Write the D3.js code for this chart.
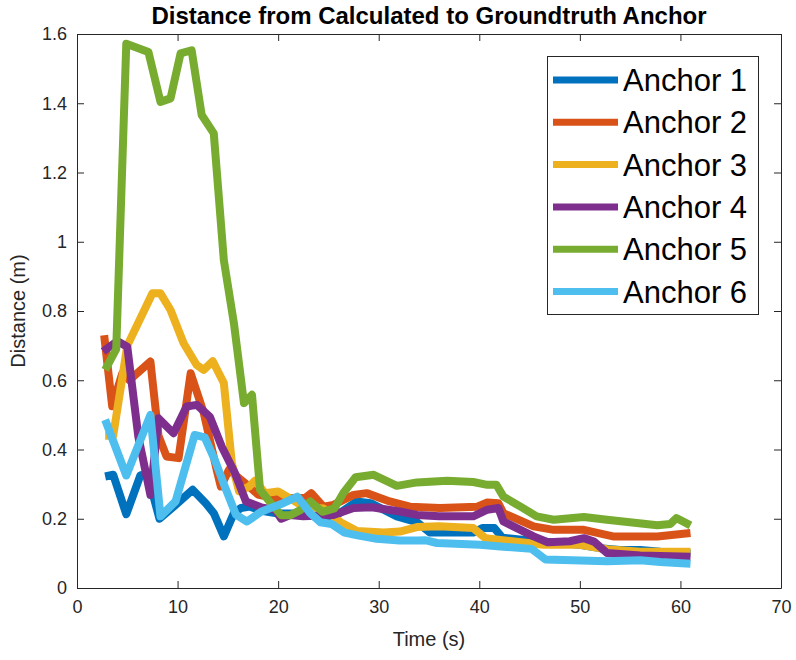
<!DOCTYPE html>
<html>
<head>
<meta charset="utf-8">
<script src="https://cdn.jsdelivr.net/npm/d3@7/dist/d3.min.js"></script>
<style>
  html, body { margin: 0; padding: 0; background: #fff; }
  svg { display: block; font-family: "Liberation Sans", Arial, Helvetica, sans-serif; }
</style>
</head>
<body>
<svg id="chart" width="796" height="660"></svg>
<script>
// Distance between calculated and ground-truth anchor positions over time
const seriesNames = ["Anchor 1", "Anchor 2", "Anchor 3", "Anchor 4", "Anchor 5", "Anchor 6"];
const seriesColors = ["#0072BD", "#D95319", "#EDB120", "#7E2F8E", "#77AC30", "#4DBEEE"];

const anchor1Time = [2.8, 3.6, 4.9, 6.3, 7.0, 8.2, 9.6, 11.5, 12.8, 13.6, 14.6, 15.6, 16.3, 17.2, 18.5, 20.0, 22.0, 24.0, 25.8, 27.8, 29.2, 31.8, 33.8, 35.1, 37.0, 39.4, 40.3, 41.5, 42.3, 44.0, 46.0, 48.0, 50.0, 52.0, 54.0, 56.0, 58.0, 61.0];
const anchor1Dist = [0.322, 0.327, 0.213, 0.325, 0.330, 0.200, 0.235, 0.284, 0.245, 0.216, 0.149, 0.216, 0.231, 0.235, 0.222, 0.215, 0.215, 0.205, 0.210, 0.250, 0.245, 0.207, 0.190, 0.160, 0.160, 0.160, 0.173, 0.173, 0.145, 0.140, 0.135, 0.130, 0.125, 0.115, 0.110, 0.110, 0.105, 0.100];

const anchor2Time = [2.7, 3.5, 4.5, 5.2, 7.3, 8.1, 8.9, 10.1, 11.3, 12.6, 13.9, 14.3, 15.1, 16.7, 18.0, 19.5, 21.0, 22.7, 23.3, 24.5, 25.5, 27.5, 28.8, 31.1, 33.1, 36.1, 39.8, 40.8, 41.9, 42.4, 45.4, 47.4, 50.4, 53.3, 57.7, 61.0];
const anchor2Dist = [0.730, 0.525, 0.620, 0.600, 0.654, 0.440, 0.380, 0.375, 0.620, 0.506, 0.340, 0.293, 0.341, 0.303, 0.270, 0.260, 0.260, 0.260, 0.274, 0.235, 0.240, 0.269, 0.274, 0.250, 0.235, 0.231, 0.235, 0.247, 0.245, 0.216, 0.178, 0.168, 0.168, 0.149, 0.149, 0.159];

const anchor3Time = [2.8, 3.6, 5.0, 7.5, 8.3, 9.3, 10.6, 11.9, 12.6, 13.5, 14.6, 15.4, 16.1, 17.1, 17.7, 18.7, 20.0, 21.4, 22.5, 24.5, 26.2, 27.8, 30.5, 32.1, 33.8, 36.0, 39.4, 40.6, 42.1, 46.4, 50.0, 52.7, 56.0, 61.0];
const anchor3Dist = [0.440, 0.440, 0.700, 0.851, 0.851, 0.803, 0.707, 0.644, 0.630, 0.655, 0.592, 0.360, 0.280, 0.293, 0.310, 0.274, 0.279, 0.255, 0.235, 0.230, 0.190, 0.165, 0.160, 0.163, 0.176, 0.178, 0.173, 0.144, 0.139, 0.125, 0.125, 0.112, 0.105, 0.105];

const anchor4Time = [2.6, 4.0, 5.0, 6.1, 7.3, 8.1, 9.6, 10.9, 11.9, 13.2, 14.4, 15.7, 16.8, 18.3, 19.7, 20.3, 21.2, 22.5, 25.5, 27.5, 29.3, 32.1, 33.8, 36.0, 39.4, 40.8, 41.9, 42.4, 45.4, 46.8, 49.0, 50.4, 51.4, 52.7, 56.0, 61.0];
const anchor4Dist = [0.683, 0.713, 0.697, 0.437, 0.269, 0.490, 0.447, 0.524, 0.529, 0.495, 0.408, 0.332, 0.250, 0.233, 0.226, 0.200, 0.211, 0.207, 0.211, 0.231, 0.233, 0.221, 0.211, 0.207, 0.207, 0.226, 0.231, 0.192, 0.149, 0.132, 0.135, 0.144, 0.134, 0.101, 0.094, 0.090];

const anchor5Time = [2.8, 3.9, 4.9, 7.1, 8.3, 9.3, 10.3, 11.4, 12.4, 13.6, 14.6, 15.6, 16.6, 17.4, 18.2, 19.0, 20.3, 21.2, 22.2, 23.2, 24.4, 25.6, 26.5, 27.7, 29.5, 31.8, 33.8, 36.8, 39.4, 40.8, 41.7, 42.4, 44.1, 45.7, 47.4, 50.4, 52.7, 57.7, 59.0, 59.6, 61.0];
const anchor5Dist = [0.630, 0.690, 1.572, 1.548, 1.404, 1.414, 1.544, 1.553, 1.366, 1.313, 0.947, 0.765, 0.534, 0.558, 0.284, 0.255, 0.210, 0.210, 0.225, 0.250, 0.220, 0.230, 0.275, 0.320, 0.327, 0.295, 0.305, 0.310, 0.306, 0.298, 0.298, 0.264, 0.235, 0.207, 0.197, 0.205, 0.197, 0.181, 0.185, 0.202, 0.181];

const anchor6Time = [2.8, 4.9, 7.3, 8.3, 9.8, 11.7, 12.7, 13.7, 14.7, 15.8, 16.9, 18.3, 19.6, 20.5, 21.9, 23.2, 24.2, 25.3, 26.6, 27.9, 29.8, 32.1, 33.8, 34.6, 35.8, 40.1, 42.1, 45.2, 46.6, 52.7, 56.0, 58.0, 61.0];
const anchor6Dist = [0.486, 0.325, 0.500, 0.207, 0.250, 0.442, 0.435, 0.370, 0.293, 0.212, 0.192, 0.220, 0.235, 0.245, 0.264, 0.216, 0.190, 0.185, 0.160, 0.152, 0.142, 0.137, 0.137, 0.138, 0.130, 0.125, 0.120, 0.113, 0.082, 0.077, 0.080, 0.075, 0.070];

const xTicks = [0, 10, 20, 30, 40, 50, 60, 70];
const yTicks = [0, 0.2, 0.4, 0.6, 0.8, 1, 1.2, 1.4, 1.6];

const titleText = "Distance from Calculated to Groundtruth Anchor";
const xLabelText = "Time (s)";
const yLabelText = "Distance (m)";

const seriesTimes = [anchor1Time, anchor2Time, anchor3Time, anchor4Time, anchor5Time, anchor6Time];
const seriesDists = [anchor1Dist, anchor2Dist, anchor3Dist, anchor4Dist, anchor5Dist, anchor6Dist];
const series = seriesNames.map((name, i) => ({
  name, color: seriesColors[i],
  points: seriesTimes[i].map((t, j) => ({ t, d: seriesDists[i][j] }))
}));

const svg = d3.select("#chart");
const plot = { left: 77, top: 34, right: 781, bottom: 588 };
const axisColor = "#262626";

const x = d3.scaleLinear().domain([0, 70]).range([plot.left, plot.right]);
const y = d3.scaleLinear().domain([0, 1.6]).range([plot.bottom, plot.top]);

// data lines
const line = d3.line().x(p => x(p.t)).y(p => y(p.d));
svg.append("g").selectAll("path").data(series).join("path")
  .attr("d", s => line(s.points))
  .attr("fill", "none")
  .attr("stroke", s => s.color)
  .attr("stroke-width", 8)
  .attr("stroke-linejoin", "round")
  .attr("stroke-linecap", "butt");

// box axes with inward ticks
const tickLen = 7;
const fmt = d => String(d);
const bottomAxis = d3.axisBottom(x).tickValues(xTicks).tickFormat(fmt).tickSizeInner(-tickLen).tickSizeOuter(0).tickPadding(12);
const topAxis = d3.axisTop(x).tickValues(xTicks).tickFormat("").tickSizeInner(-tickLen).tickSizeOuter(0);
const leftAxis = d3.axisLeft(y).tickValues(yTicks).tickFormat(fmt).tickSizeInner(-tickLen).tickSizeOuter(0).tickPadding(10);
const rightAxis = d3.axisRight(y).tickValues(yTicks).tickFormat("").tickSizeInner(-tickLen).tickSizeOuter(0);

function styleAxis(g) {
  g.selectAll(".domain").attr("stroke", axisColor).attr("stroke-width", 1);
  g.selectAll(".tick line").attr("stroke", axisColor).attr("stroke-width", 1);
  g.selectAll(".tick text").attr("fill", axisColor).attr("font-size", 18)
    .attr("font-family", "'Liberation Sans', Arial, Helvetica, sans-serif");
}
svg.append("g").attr("transform", `translate(0,${plot.bottom})`).call(bottomAxis).call(styleAxis);
svg.append("g").attr("transform", `translate(0,${plot.top})`).call(topAxis).call(styleAxis);
svg.append("g").attr("transform", `translate(${plot.left},0)`).call(leftAxis).call(styleAxis);
svg.append("g").attr("transform", `translate(${plot.right},0)`).call(rightAxis).call(styleAxis);

// title and axis labels
svg.append("text")
  .attr("x", (plot.left + plot.right) / 2).attr("y", 24)
  .attr("text-anchor", "middle").attr("font-weight", "bold").attr("font-size", 24)
  .attr("fill", "#000").text(titleText);
svg.append("text")
  .attr("x", (plot.left + plot.right) / 2).attr("y", 646)
  .attr("text-anchor", "middle").attr("font-size", 20)
  .attr("fill", axisColor).text(xLabelText);
svg.append("text")
  .attr("transform", `translate(25,${(plot.top + plot.bottom) / 2}) rotate(-90)`)
  .attr("text-anchor", "middle").attr("font-size", 20)
  .attr("fill", axisColor).text(yLabelText);

// legend
const legend = { x: 547, y: 56, w: 211, h: 258, rowTop: 80, rowStep: 42.3 };
const lg = svg.append("g");
lg.append("rect")
  .attr("x", legend.x + 0.5).attr("y", legend.y + 0.5)
  .attr("width", legend.w).attr("height", legend.h)
  .attr("fill", "#fff").attr("stroke", axisColor).attr("stroke-width", 1);
const rows = lg.selectAll("g.row").data(series).join("g").attr("class", "row")
  .attr("transform", (s, i) => `translate(0,${legend.rowTop + i * legend.rowStep})`);
rows.append("line")
  .attr("x1", 553).attr("x2", 618).attr("y1", 0).attr("y2", 0)
  .attr("stroke", s => s.color).attr("stroke-width", 7);
rows.append("text")
  .attr("x", 623).attr("y", 11)
  .attr("font-size", 31).attr("fill", "#000")
  .text(s => s.name);
</script>
</body>
</html>
